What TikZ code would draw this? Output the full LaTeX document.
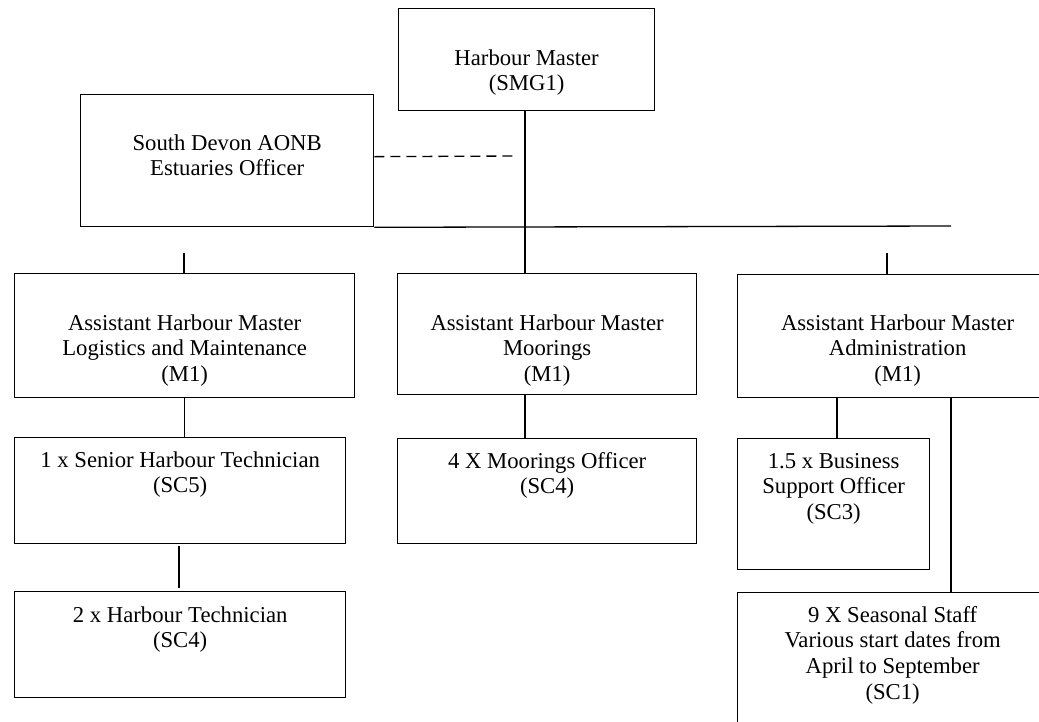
\documentclass[tikz,border=0pt]{standalone}
\usepackage{fontspec}
\setmainfont{Liberation Serif}
\usetikzlibrary{calc}
\renewcommand{\arraystretch}{1}
\begin{document}
\begin{tikzpicture}[x=1pt,y=-1pt,
  box/.style={draw, line width=1.3pt, inner sep=0pt, anchor=north west},
  txt/.style={anchor=base, inner sep=0pt, font=\fontsize{22.7}{25.7}\selectfont},
  conn/.style={line width=1.3pt},
  dashconn/.style={line width=1.3pt, dash pattern=on 10pt off 6pt}]
\useasboundingbox (0,0) rectangle (1039,721);
\clip (0,0) rectangle (1039,721);
% boxes
\node[box, minimum width=256pt, minimum height=102pt] (hm) at (398,8) {};
\node[box, minimum width=293pt, minimum height=132pt] (sd) at (80,94) {};
\node[box, minimum width=340pt, minimum height=124pt] (log) at (14,273) {};
\node[box, minimum width=299pt, minimum height=121pt] (moo) at (397,273) {};
\node[box, minimum width=320pt, minimum height=123pt] (adm) at (737,274) {};
\node[box, minimum width=331pt, minimum height=106pt] (sen) at (14,437) {};
\node[box, minimum width=331pt, minimum height=106pt] (tech) at (14,591) {};
\node[box, minimum width=299pt, minimum height=105pt] (mof) at (397,438) {};
\node[box, minimum width=192pt, minimum height=131pt] (bus) at (737,438) {};
\node[box, minimum width=310pt, minimum height=170pt] (sea) at (737,592) {};
% texts
\node[txt] (hmt) at ($(hm.north)+(0,57)$) {\begin{tabular}[t]{c}Harbour Master\\(SMG1)\end{tabular}};
\node[txt] (sdt) at ($(sd.north)+(0,56)$) {\begin{tabular}[t]{c}South Devon AONB\\Estuaries Officer\end{tabular}};
\node[txt] (logt) at ($(log.north)+(0,57)$) {\begin{tabular}[t]{c}Assistant Harbour Master\\Logistics and Maintenance\\(M1)\end{tabular}};
\node[txt] (moot) at ($(moo.north)+(0,57)$) {\begin{tabular}[t]{c}Assistant Harbour Master\\Moorings\\(M1)\end{tabular}};
\node[txt] (admt) at ($(adm.north)+(0,56)$) {\begin{tabular}[t]{c}Assistant Harbour Master\\Administration\\(M1)\end{tabular}};
\node[txt] (sent) at ($(sen.north)+(0,30)$) {\begin{tabular}[t]{c}1 x Senior Harbour Technician\\(SC5)\end{tabular}};
\node[txt] (techt) at ($(tech.north)+(0,31)$) {\begin{tabular}[t]{c}2 x Harbour Technician\\(SC4)\end{tabular}};
\node[txt] (moft) at ($(mof.north)+(0,30)$) {\begin{tabular}[t]{c}4 X Moorings Officer\\(SC4)\end{tabular}};
\node[txt] (bust) at ($(bus.north)+(0,30)$) {\begin{tabular}[t]{c}1.5 x Business\\Support Officer\\(SC3)\end{tabular}};
\node[txt] (seat) at ($(sea.north)+(0,30)$) {\begin{tabular}[t]{c}9 X Seasonal Staff\\Various start dates from\\April to September\\(SC1)\end{tabular}};
% coordinates
\coordinate (busR) at (951,226);
\coordinate (dashE) at (517,156);
\coordinate (tkL) at (184,253);
\coordinate (tkR) at (887,253);
\coordinate (st1) at (179,546);
\coordinate (st2) at (179,588);
\coordinate (ab) at (837,397);
\coordinate (as) at (951,397);
\coordinate (hmx) at (525,110);
% connectors
\draw[conn] (hmx) -- (hmx |- moo.north);
\draw[conn] (sd.south east) -- (busR);
\draw[dashconn] ([yshift=4pt]sd.east) -- (dashE);
\draw[conn] (tkL) -- (tkL |- log.north);
\draw[conn] (tkR) -- (tkR |- adm.north);
\draw[conn] (log.south) -- (log.south |- sen.north);
\draw[conn] (st1) -- (st2);
\draw[conn] (hmx |- moo.south) -- (hmx |- mof.north);
\draw[conn] (ab) -- (ab |- bus.north);
\draw[conn] (as) -- (as |- sea.north);
\end{tikzpicture}
\end{document}
